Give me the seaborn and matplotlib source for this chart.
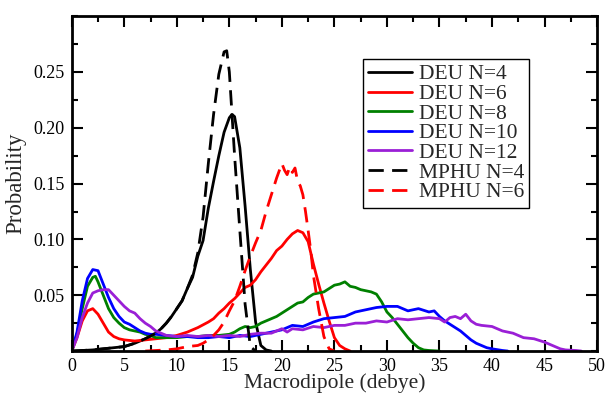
import numpy as np
import pandas as pd
import matplotlib
matplotlib.use('Agg')
import matplotlib.pyplot as plt
from matplotlib.ticker import MultipleLocator
import seaborn as sns

# ── data ────────────────────────────────────────────────────
deu4_x = [0, 1, 2, 3, 4, 5, 6, 7, 8, 8.5, 9, 9.5, 10, 10.5, 11, 11.5, 12, 12.5, 13,
          13.5, 14, 14.5, 15, 15.25, 15.5, 16, 16.5, 17, 17.5, 18, 18.5, 19]
deu4_y = [0, 0.0005, 0.001, 0.002, 0.003, 0.004, 0.007, 0.011, 0.016, 0.020, 0.025,
          0.031, 0.038, 0.045, 0.056, 0.066, 0.085, 0.099, 0.128, 0.152, 0.175, 0.196,
          0.209, 0.212, 0.210, 0.182, 0.130, 0.073, 0.026, 0.005, 0.001, 0]

mphu4_x = [0, 1, 2, 3, 4, 5, 6, 7, 8, 8.5, 9, 9.5, 10, 10.5, 11, 11.5, 12, 12.5, 13,
           13.5, 14, 14.5, 14.75, 15, 15.5, 16, 16.5, 17, 17.5]
mphu4_y = [0, 0.0005, 0.001, 0.002, 0.003, 0.004, 0.007, 0.011, 0.016, 0.020, 0.025,
           0.031, 0.038, 0.045, 0.056, 0.068, 0.088, 0.120, 0.168, 0.212, 0.248, 0.268,
           0.269, 0.250, 0.175, 0.108, 0.042, 0.004, 0]

deu6_x = [0, 0.5, 1, 1.5, 2, 2.5, 3, 3.5, 4, 4.5, 5, 6, 7, 8, 9, 10, 11, 12, 13, 13.5,
          14, 14.5, 15, 15.5, 16, 16.5, 17, 17.5, 18, 18.5, 19, 19.5, 20, 20.5, 21,
          21.5, 22, 22.5, 23, 23.5, 24, 24.5, 25, 25.5, 26, 26.5]
deu6_y = [0, 0.012, 0.027, 0.036, 0.038, 0.033, 0.025, 0.017, 0.013, 0.011, 0.010,
          0.009, 0.010, 0.011, 0.012, 0.014, 0.017, 0.021, 0.026, 0.029, 0.034, 0.038,
          0.043, 0.047, 0.052, 0.057, 0.059, 0.064, 0.071, 0.077, 0.083, 0.090, 0.094,
          0.100, 0.105, 0.108, 0.106, 0.098, 0.078, 0.060, 0.043, 0.027, 0.012, 0.005,
          0.002, 0]

mphu6_x = [7, 8, 9, 10, 11, 12, 12.5, 13, 13.5, 14, 14.5, 15, 15.5, 16, 16.5, 17, 17.5,
           18, 18.5, 19, 19.5, 20, 20.25, 20.5, 20.75, 21, 21.25, 21.5, 21.75, 22, 22.25,
           22.5, 22.75, 23, 23.5, 24, 24.5, 25]
mphu6_y = [0, 0.0005, 0.001, 0.002, 0.004, 0.005, 0.007, 0.010, 0.014, 0.019, 0.026,
           0.036, 0.045, 0.058, 0.072, 0.085, 0.097, 0.108, 0.125, 0.140, 0.155, 0.168,
           0.162, 0.158, 0.165, 0.160, 0.164, 0.152, 0.148, 0.140, 0.125, 0.108, 0.090,
           0.068, 0.038, 0.013, 0.002, 0]

deu8_x = [0, 0.5, 1, 1.5, 2, 2.25, 2.5, 3, 3.5, 4, 4.5, 5, 5.5, 6, 6.5, 7, 7.5, 8, 9,
          10, 11, 12, 13, 14, 15, 15.5, 16, 16.5, 17, 17.5, 18, 18.5, 19, 19.5, 20,
          20.5, 21, 21.5, 22, 22.5, 23, 23.5, 24, 24.5, 25, 25.5, 26, 26.5, 27, 27.5,
          28, 28.5, 29, 29.5, 30, 30.5, 31, 31.5, 32, 32.5, 33, 33.5, 34, 35]
deu8_y = [0, 0.015, 0.038, 0.058, 0.066, 0.067, 0.062, 0.050, 0.038, 0.030, 0.025,
          0.021, 0.019, 0.018, 0.017, 0.015, 0.014, 0.012, 0.012, 0.012, 0.013, 0.013,
          0.014, 0.014, 0.015, 0.017, 0.020, 0.022, 0.021, 0.022, 0.025, 0.027, 0.029,
          0.031, 0.034, 0.037, 0.040, 0.043, 0.044, 0.048, 0.051, 0.052, 0.053, 0.056,
          0.059, 0.060, 0.062, 0.058, 0.057, 0.055, 0.054, 0.053, 0.051, 0.044, 0.035,
          0.030, 0.024, 0.018, 0.012, 0.007, 0.003, 0.001, 0.0005, 0]

deu10_x = [0, 0.5, 1, 1.5, 2, 2.5, 3, 3.5, 4, 4.5, 5, 5.5, 6, 6.5, 7, 7.5, 8, 9, 10,
           11, 12, 13, 14, 15, 16, 17, 18, 19, 20, 21, 22, 23, 24, 25, 26, 27, 28, 29,
           30, 31, 32, 33, 34, 34.5, 35, 35.5, 36, 36.5, 37, 37.5, 38, 38.5, 39, 39.5,
           40, 41, 41.5]
deu10_y = [0, 0.017, 0.045, 0.065, 0.073, 0.072, 0.060, 0.048, 0.038, 0.031, 0.026,
           0.024, 0.021, 0.018, 0.016, 0.015, 0.015, 0.014, 0.013, 0.013, 0.012, 0.012,
           0.013, 0.012, 0.014, 0.013, 0.015, 0.017, 0.019, 0.023, 0.022, 0.026, 0.029,
           0.030, 0.031, 0.035, 0.037, 0.039, 0.040, 0.040, 0.036, 0.038, 0.035, 0.036,
           0.031, 0.027, 0.024, 0.021, 0.018, 0.014, 0.010, 0.007, 0.005, 0.003, 0.002,
           0.0005, 0]

deu12_x = [0, 0.5, 1, 1.5, 2, 2.5, 3, 3.5, 4, 4.5, 5, 5.5, 6, 6.5, 7, 7.5, 8, 8.5, 9,
           10, 11, 12, 13, 14, 15, 16, 17, 18, 19, 20, 20.5, 21, 22, 23, 24, 25, 26,
           27, 28, 29, 30, 31, 32, 33, 34, 35, 35.5, 36, 36.5, 37, 37.5, 38, 38.5, 39,
           40, 41, 42, 43, 44, 45, 45.5, 46, 46.5, 47, 48, 48.5]
deu12_y = [0, 0.012, 0.030, 0.043, 0.052, 0.054, 0.055, 0.055, 0.050, 0.045, 0.040,
           0.036, 0.034, 0.029, 0.025, 0.022, 0.018, 0.016, 0.014, 0.013, 0.014, 0.013,
           0.014, 0.013, 0.014, 0.013, 0.015, 0.016, 0.016, 0.020, 0.017, 0.020, 0.019,
           0.022, 0.021, 0.023, 0.023, 0.025, 0.025, 0.027, 0.026, 0.029, 0.028, 0.029,
           0.030, 0.029, 0.026, 0.030, 0.031, 0.029, 0.033, 0.027, 0.024, 0.023, 0.022,
           0.018, 0.016, 0.012, 0.011, 0.008, 0.006, 0.004, 0.002, 0.001, 0.0005, 0]

series = [
    ('DEU N=4', deu4_x, deu4_y, 'black', '-'),
    ('DEU N=6', deu6_x, deu6_y, 'red', '-'),
    ('DEU N=8', deu8_x, deu8_y, 'green', '-'),
    ('DEU N=10', deu10_x, deu10_y, 'blue', '-'),
    ('DEU N=12', deu12_x, deu12_y, '#9a1fd6', '-'),
    ('MPHU N=4', mphu4_x, mphu4_y, 'black', '--'),
    ('MPHU N=6', mphu6_x, mphu6_y, 'red', '--'),
]

# ── plot ─────────────────────────────────────────────────────
sns.set_style('ticks')
plt.rcParams['font.family'] = ['Liberation Serif', 'DejaVu Serif']

fig = plt.figure(figsize=(6.08, 3.94), dpi=100)
ax = fig.add_axes([0.118, 0.109, 0.864, 0.850])

for label, xs, ys, col, ls in series:
    df = pd.DataFrame({'x': xs, 'y': ys})
    sns.lineplot(data=df, x='x', y='y', ax=ax, color=col, lw=2,
                 label=label, estimator=None, sort=False)
    if ls == '--':
        ax.lines[-1].set_dashes((5.5, 3))

ax.set_xlim(0, 50)
ax.set_ylim(0, 0.3)
ax.set_xticks(np.arange(0, 51, 5))
ax.set_yticks([0.05, 0.10, 0.15, 0.20, 0.25])
ax.set_yticklabels(['0.05', '0.10', '0.15', '0.20', '0.25'])
ax.xaxis.set_minor_locator(MultipleLocator(2.5))
ax.yaxis.set_minor_locator(MultipleLocator(0.025))
ax.tick_params(which='both', direction='in', top=True, right=True, width=1.5,
               labelsize=13, colors='black')
ax.tick_params(which='major', length=8, pad=5)
ax.tick_params(which='minor', length=4)
for s in ax.spines.values():
    s.set_linewidth(2)
    s.set_color('black')

ax.set_xlabel('Macrodipole (debye)', fontsize=15.5, labelpad=-1)
ax.set_ylabel('Probability', fontsize=16.5, labelpad=5)

leg = ax.legend(loc='upper left', bbox_to_anchor=(0.554, 0.872), fontsize=15.5,
                frameon=True, fancybox=False, edgecolor='black', framealpha=1,
                handlelength=2.05, handletextpad=0.3, labelspacing=-0.02,
                borderpad=0.25, borderaxespad=0)
leg.get_frame().set_linewidth(1)

fig.savefig('out.png', dpi=100)
